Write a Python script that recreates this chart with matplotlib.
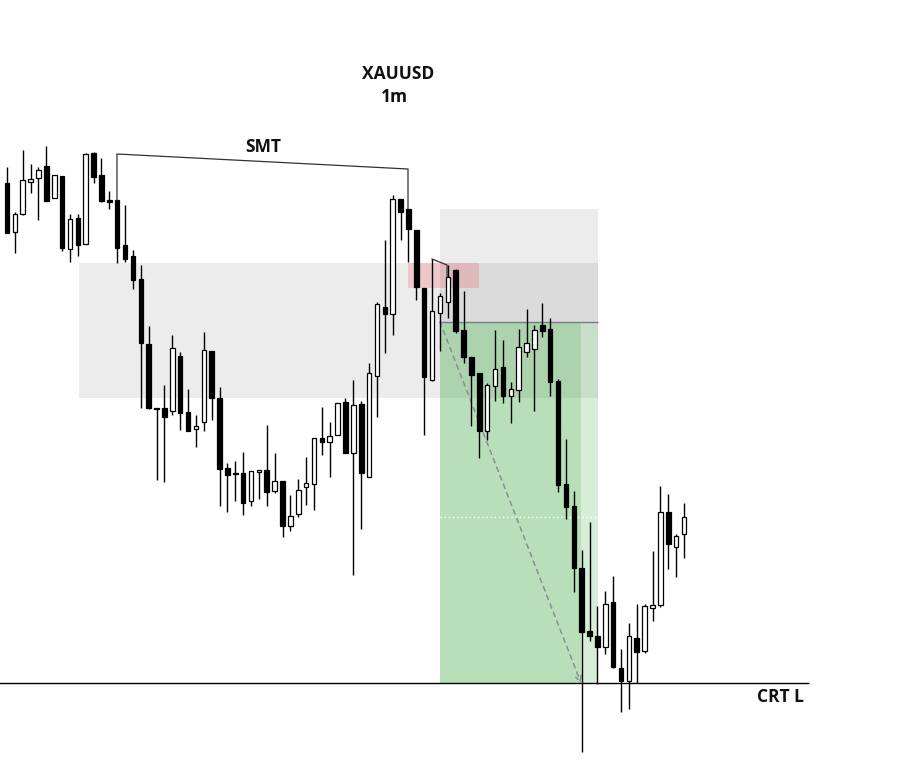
import numpy as np
import matplotlib.pyplot as plt
from matplotlib.patches import Rectangle

# --- candle data (XAUUSD 1m, price in chart points) ---
opens = [617, 568, 586, 618, 622, 634, 602, 624, 551, 582,
         556, 647, 625, 600, 600, 555, 544, 521, 456, 392,
         392, 389, 444, 388, 371, 378, 449, 402, 332, 327,
         327, 299, 328, 330, 309, 319, 274, 286, 313, 316,
         362, 358, 365, 398, 347, 396, 323, 424, 493, 486,
         601, 591, 570, 512, 420, 487, 498, 530, 470, 443,
         427, 369, 414, 433, 404, 410, 448, 451, 475, 471,
         419, 316, 294, 232, 169, 164, 153, 198, 132, 119,
         162, 149, 192, 195, 288, 253, 266]
highs = [633, 588, 650, 636, 633, 654, 625, 624, 586, 586,
         647, 648, 642, 609, 600, 595, 550, 535, 474, 392,
         415, 465, 448, 411, 385, 468, 449, 413, 337, 339,
         348, 329, 330, 375, 347, 319, 305, 321, 343, 362,
         393, 378, 397, 402, 420, 399, 437, 498, 560, 605,
         601, 591, 570, 512, 541, 507, 535, 531, 509, 443,
         427, 417, 470, 460, 418, 471, 491, 475, 497, 482,
         421, 361, 309, 250, 278, 194, 209, 224, 151, 177,
         196, 196, 249, 314, 306, 266, 297]
lows = [567, 547, 585, 607, 580, 599, 602, 549, 538, 544,
        556, 617, 598, 591, 537, 538, 511, 392, 391, 320,
        318, 385, 370, 369, 353, 369, 380, 294, 288, 299,
        285, 294, 301, 294, 307, 263, 269, 283, 295, 290,
        345, 323, 365, 347, 225, 271, 323, 383, 447, 465,
        560, 538, 500, 365, 419, 449, 482, 467, 437, 374,
        342, 360, 399, 397, 377, 398, 443, 389, 463, 404,
        308, 281, 208, 48, 159, 116, 146, 132, 88, 91,
        117, 147, 179, 193, 231, 223, 242]
closes = [567, 586, 620, 621, 630, 599, 625, 552, 581, 555,
          646, 623, 599, 598, 552, 541, 520, 457, 392, 391,
          383, 452, 387, 369, 374, 450, 402, 331, 325, 326,
          297, 329, 330, 308, 319, 274, 284, 310, 317, 362,
          358, 364, 397, 347, 395, 327, 427, 496, 486, 601,
          588, 571, 513, 423, 489, 504, 523, 469, 443, 425,
          369, 415, 431, 404, 411, 453, 457, 470, 469, 418,
          315, 293, 232, 168, 164, 153, 196, 133, 119, 164,
          148, 194, 195, 288, 256, 264, 283]

# zones and levels
range_zone = (9.15, 75.08, 402, 537)      # x0, x1, low, high
stop_zone = (55.0, 75.08, 478, 591)
fvg_zone = (50.94, 59.96, 512, 537)
target_zone = (55.0, 75.08, 116, 478)
target_zone_inner = (55.0, 72.92, 116, 478)
entry_level = 478
mid_level = 283
crt_low = 117
smt_x = [13.97, 13.97, 50.94, 50.94]
smt_y = [600, 646, 631, 591]
mini_x = [53.99, 55.9, 55.9]
mini_y = [541, 535, 523]

# --- figure ---
fig = plt.figure(figsize=(9.14, 7.83), dpi=100)
ax = fig.add_axes([0, 0, 1, 1])
ax.set_xlim(-7 / 7.872, (914 - 7) / 7.872)
ax.set_ylim(17, 800)
ax.axis("off")

def box(z, color, alpha, zorder):
    ax.add_patch(Rectangle((z[0], z[2]), z[1] - z[0], z[3] - z[2],
                           facecolor=color, alpha=alpha, lw=0, zorder=zorder))

box(range_zone, "#808080", 0.15, 0)
box(stop_zone, "#808080", 0.15, 0.1)
box(fvg_zone, "#f23645", 0.2, 0.2)
box(target_zone, "#4caf50", 0.22, 0.3)
box(target_zone_inner, "#4caf50", 0.22, 0.4)

ax.hlines(entry_level, target_zone[0], target_zone[1], color="#787b86", lw=1, zorder=1)
ax.hlines(mid_level, target_zone[0], target_zone[1], color="white", lw=1,
          linestyles=(0, (1, 2)), zorder=1)
ax.annotate("", xy=(target_zone_inner[1], crt_low), xytext=(target_zone[0], entry_level),
            arrowprops=dict(arrowstyle="->", color="#8a8d96", lw=1.1,
                            linestyle=(0, (3, 3)), shrinkA=0, shrinkB=0), zorder=1)

# --- candles ---
o = np.array(opens); h = np.array(highs); l = np.array(lows); c = np.array(closes)
x = np.arange(len(o))
up = c >= o
ax.vlines(x, l, h, color="black", lw=1.0, zorder=3)
bottom = np.minimum(o, c)
height = np.maximum(np.abs(c - o), 1)
ax.bar(x, height, bottom=bottom, width=0.58,
       color=np.where(up, "white", "black"), edgecolor="black", lw=0.9, zorder=4)

# --- lines and labels ---
ax.plot(smt_x, smt_y, color="#333333", lw=0.9, zorder=5)
ax.plot(mini_x, mini_y, color="#333333", lw=0.9, zorder=5)
ax.hlines(crt_low, -1, 101.9, color="black", lw=1, zorder=5)

font = dict(family=["Open Sans", "DejaVu Sans"], fontweight="bold", fontsize=12.5, color="#111111")
ax.text(32.6, 653, "SMT", ha="center", va="center", **font)
ax.text(98.3, 103, "CRT L", ha="center", va="center", **font)
fig.text(398 / 914, 1 - 74 / 783, "XAUUSD", ha="center", va="center", **font)
fig.text(394 / 914, 1 - 97 / 783, "1m", ha="center", va="center", **font)

plt.savefig("out.png", dpi=100)
